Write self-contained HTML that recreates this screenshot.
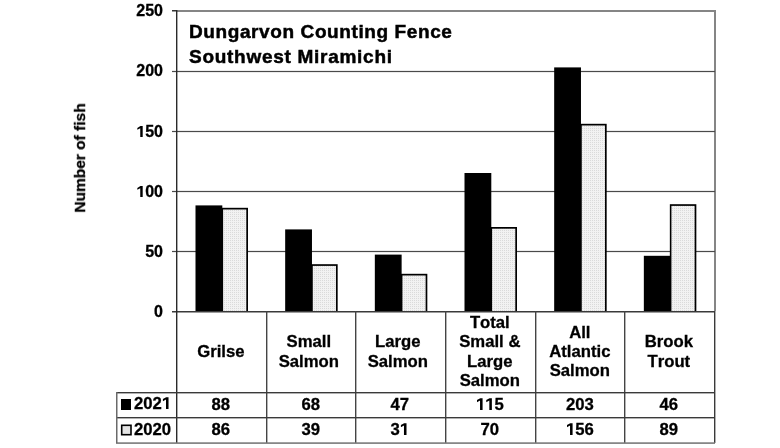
<!DOCTYPE html>
<html><head><meta charset="utf-8">
<style>
html,body{margin:0;padding:0;background:#fff;}
body{width:780px;height:448px;position:relative;overflow:hidden;font-family:"Liberation Sans",sans-serif;font-weight:bold;color:#000;-webkit-text-stroke:0.3px #000;}
svg{position:absolute;left:0;top:0;}
.yl,.hd,.vl,.lg,.title,.ytitle{will-change:transform;}
.yl{position:absolute;left:120px;width:43px;height:20px;line-height:20px;text-align:right;font-size:16px;}
.hd{font-kerning:none;position:absolute;top:311px;height:81px;display:flex;align-items:center;justify-content:center;text-align:center;font-size:16.7px;line-height:19.3px;}
.vl{position:absolute;height:25px;line-height:25px;text-align:center;font-size:16.7px;}
.lg{position:absolute;left:134px;height:25px;line-height:24px;font-size:16.7px;}
.title{position:absolute;left:189px;font-size:19px;line-height:25px;white-space:nowrap;letter-spacing:0.6px;-webkit-text-stroke:0.5px #000;}
.ytitle{position:absolute;left:79.7px;top:157.5px;transform:translate(-50%,-50%) rotate(-90deg);font-size:15.5px;white-space:nowrap;}
.one{position:relative;color:transparent;-webkit-text-stroke:0;}
.one::after{content:'';position:absolute;left:0;top:0.195em;width:0.5562em;height:0.71em;background:#000;clip-path:polygon(44.5% 100%,44.5% 18.4%,11.6% 33%,11.6% 15.6%,46.5% 0%,72% 0%,72% 100%);}
</style></head>
<body>
<svg width="780" height="448" viewBox="0 0 780 448">
<defs>
<pattern id="dots" width="2" height="2" patternUnits="userSpaceOnUse">
<rect width="2" height="2" fill="#f2f2f2"/>
<rect x="0" y="0" width="1" height="1" fill="#dadada"/>
</pattern>
</defs>
<!-- plot frame -->
<rect x="176" y="10" width="539.5" height="2" fill="#858585"/>
<rect x="714" y="10" width="2" height="301" fill="#858585"/>
<rect x="172" y="10" width="4" height="1.5" fill="#333"/>
<rect x="172" y="70.5" width="543" height="2" fill="#4a4a4a" opacity="0.22"/>
<rect x="172" y="71" width="543" height="1" fill="#4a4a4a"/>
<rect x="172" y="130.5" width="543" height="2" fill="#4a4a4a" opacity="0.22"/>
<rect x="172" y="131" width="543" height="1" fill="#4a4a4a"/>
<rect x="172" y="190.5" width="543" height="2" fill="#4a4a4a" opacity="0.22"/>
<rect x="172" y="191" width="543" height="1" fill="#4a4a4a"/>
<rect x="172" y="250.5" width="543" height="2" fill="#4a4a4a" opacity="0.22"/>
<rect x="172" y="251" width="543" height="1" fill="#4a4a4a"/>
<rect x="221.50" y="207.80" width="26.50" height="103.70" fill="#000"/>
<rect x="223.10" y="209.50" width="23.20" height="102.00" fill="url(#dots)"/>
<rect x="195.50" y="205.40" width="26.80" height="106.10" fill="#000"/>
<rect x="311.17" y="264.20" width="26.50" height="47.30" fill="#000"/>
<rect x="312.77" y="265.90" width="23.20" height="45.60" fill="url(#dots)"/>
<rect x="285.17" y="229.40" width="26.80" height="82.10" fill="#000"/>
<rect x="400.83" y="273.80" width="26.50" height="37.70" fill="#000"/>
<rect x="402.43" y="275.50" width="23.20" height="36.00" fill="url(#dots)"/>
<rect x="374.83" y="254.60" width="26.80" height="56.90" fill="#000"/>
<rect x="490.50" y="227.00" width="26.50" height="84.50" fill="#000"/>
<rect x="492.10" y="228.70" width="23.20" height="82.80" fill="url(#dots)"/>
<rect x="464.50" y="173.00" width="26.80" height="138.50" fill="#000"/>
<rect x="580.17" y="123.80" width="26.50" height="187.70" fill="#000"/>
<rect x="581.77" y="125.50" width="23.20" height="186.00" fill="url(#dots)"/>
<rect x="554.17" y="67.40" width="26.80" height="244.10" fill="#000"/>
<rect x="669.84" y="204.20" width="26.50" height="107.30" fill="#000"/>
<rect x="671.43" y="205.90" width="23.20" height="105.60" fill="url(#dots)"/>
<rect x="643.84" y="255.80" width="26.80" height="55.70" fill="#000"/>
<!-- zero line -->
<rect x="172" y="311" width="543" height="1.5" fill="#3a3a3a"/>
<!-- y axis -->
<rect x="176" y="10" width="1.4" height="433" fill="#2a2a2a"/>
<!-- table -->
<rect x="714" y="311" width="1.4" height="132" fill="#3a3a3a"/>
<rect x="266" y="311" width="1.4" height="132" fill="#444"/>
<rect x="355" y="311" width="1.4" height="132" fill="#444"/>
<rect x="445" y="311" width="1.4" height="132" fill="#444"/>
<rect x="535" y="311" width="1.4" height="132" fill="#444"/>
<rect x="624" y="311" width="1.4" height="132" fill="#444"/>
<rect x="116" y="392" width="599" height="1.4" fill="#3a3a3a"/>
<rect x="116" y="417" width="599" height="1.4" fill="#3a3a3a"/>
<rect x="116" y="442.3" width="599" height="1.6" fill="#7a7a7a"/>
<rect x="116" y="392" width="1.5" height="51" fill="#6a6a6a"/>
<!-- legend keys -->
<rect x="121" y="399" width="10" height="11" fill="#000"/>
<rect x="121.7" y="425.3" width="9.3" height="9.4" fill="#e4e4e4" stroke="#000" stroke-width="1.6"/>
</svg>
<div class="title" style="top:19px">Dungarvon Counting Fence</div>
<div class="title" style="top:44px;letter-spacing:0.72px">Southwest Miramichi</div>
<div class="ytitle">Number of fish</div>
<div class="yl" style="top:1.00px">250</div>
<div class="yl" style="top:61.25px">200</div>
<div class="yl" style="top:121.50px"><span class="one">1</span>50</div>
<div class="yl" style="top:181.75px"><span class="one">1</span>00</div>
<div class="yl" style="top:242.00px">50</div>
<div class="yl" style="top:302.25px">0</div>

<div class="hd" style="left:176.00px;width:89.67px">Grilse</div>
<div class="hd" style="left:263.67px;width:89.67px">Small<br>Salmon</div>
<div class="hd" style="left:353.33px;width:89.67px">Large<br>Salmon</div>
<div class="hd" style="left:445.00px;width:89.67px">Total<br>Small &amp;<br>Large<br>Salmon</div>
<div class="hd" style="left:534.67px;width:89.67px">All<br>Atlantic<br>Salmon</div>
<div class="hd" style="left:624.34px;width:89.67px">Brook<br>Trout</div>

<div class="vl" style="left:176.00px;width:89.67px;top:392px">88</div>
<div class="vl" style="left:176.00px;width:89.67px;top:417px">86</div>
<div class="vl" style="left:265.67px;width:89.67px;top:392px">68</div>
<div class="vl" style="left:265.67px;width:89.67px;top:417px">39</div>
<div class="vl" style="left:355.33px;width:89.67px;top:392px">47</div>
<div class="vl" style="left:355.33px;width:89.67px;top:417px">3<span class="one">1</span></div>
<div class="vl" style="left:445.00px;width:89.67px;top:392px"><span class="one">1</span><span class="one">1</span>5</div>
<div class="vl" style="left:445.00px;width:89.67px;top:417px">70</div>
<div class="vl" style="left:534.67px;width:89.67px;top:392px">203</div>
<div class="vl" style="left:534.67px;width:89.67px;top:417px"><span class="one">1</span>56</div>
<div class="vl" style="left:624.34px;width:89.67px;top:392px">46</div>
<div class="vl" style="left:624.34px;width:89.67px;top:417px">89</div>

<div class="lg" style="top:392px">202<span class="one">1</span></div>
<div class="lg" style="top:418px">2020</div>
</body></html>
